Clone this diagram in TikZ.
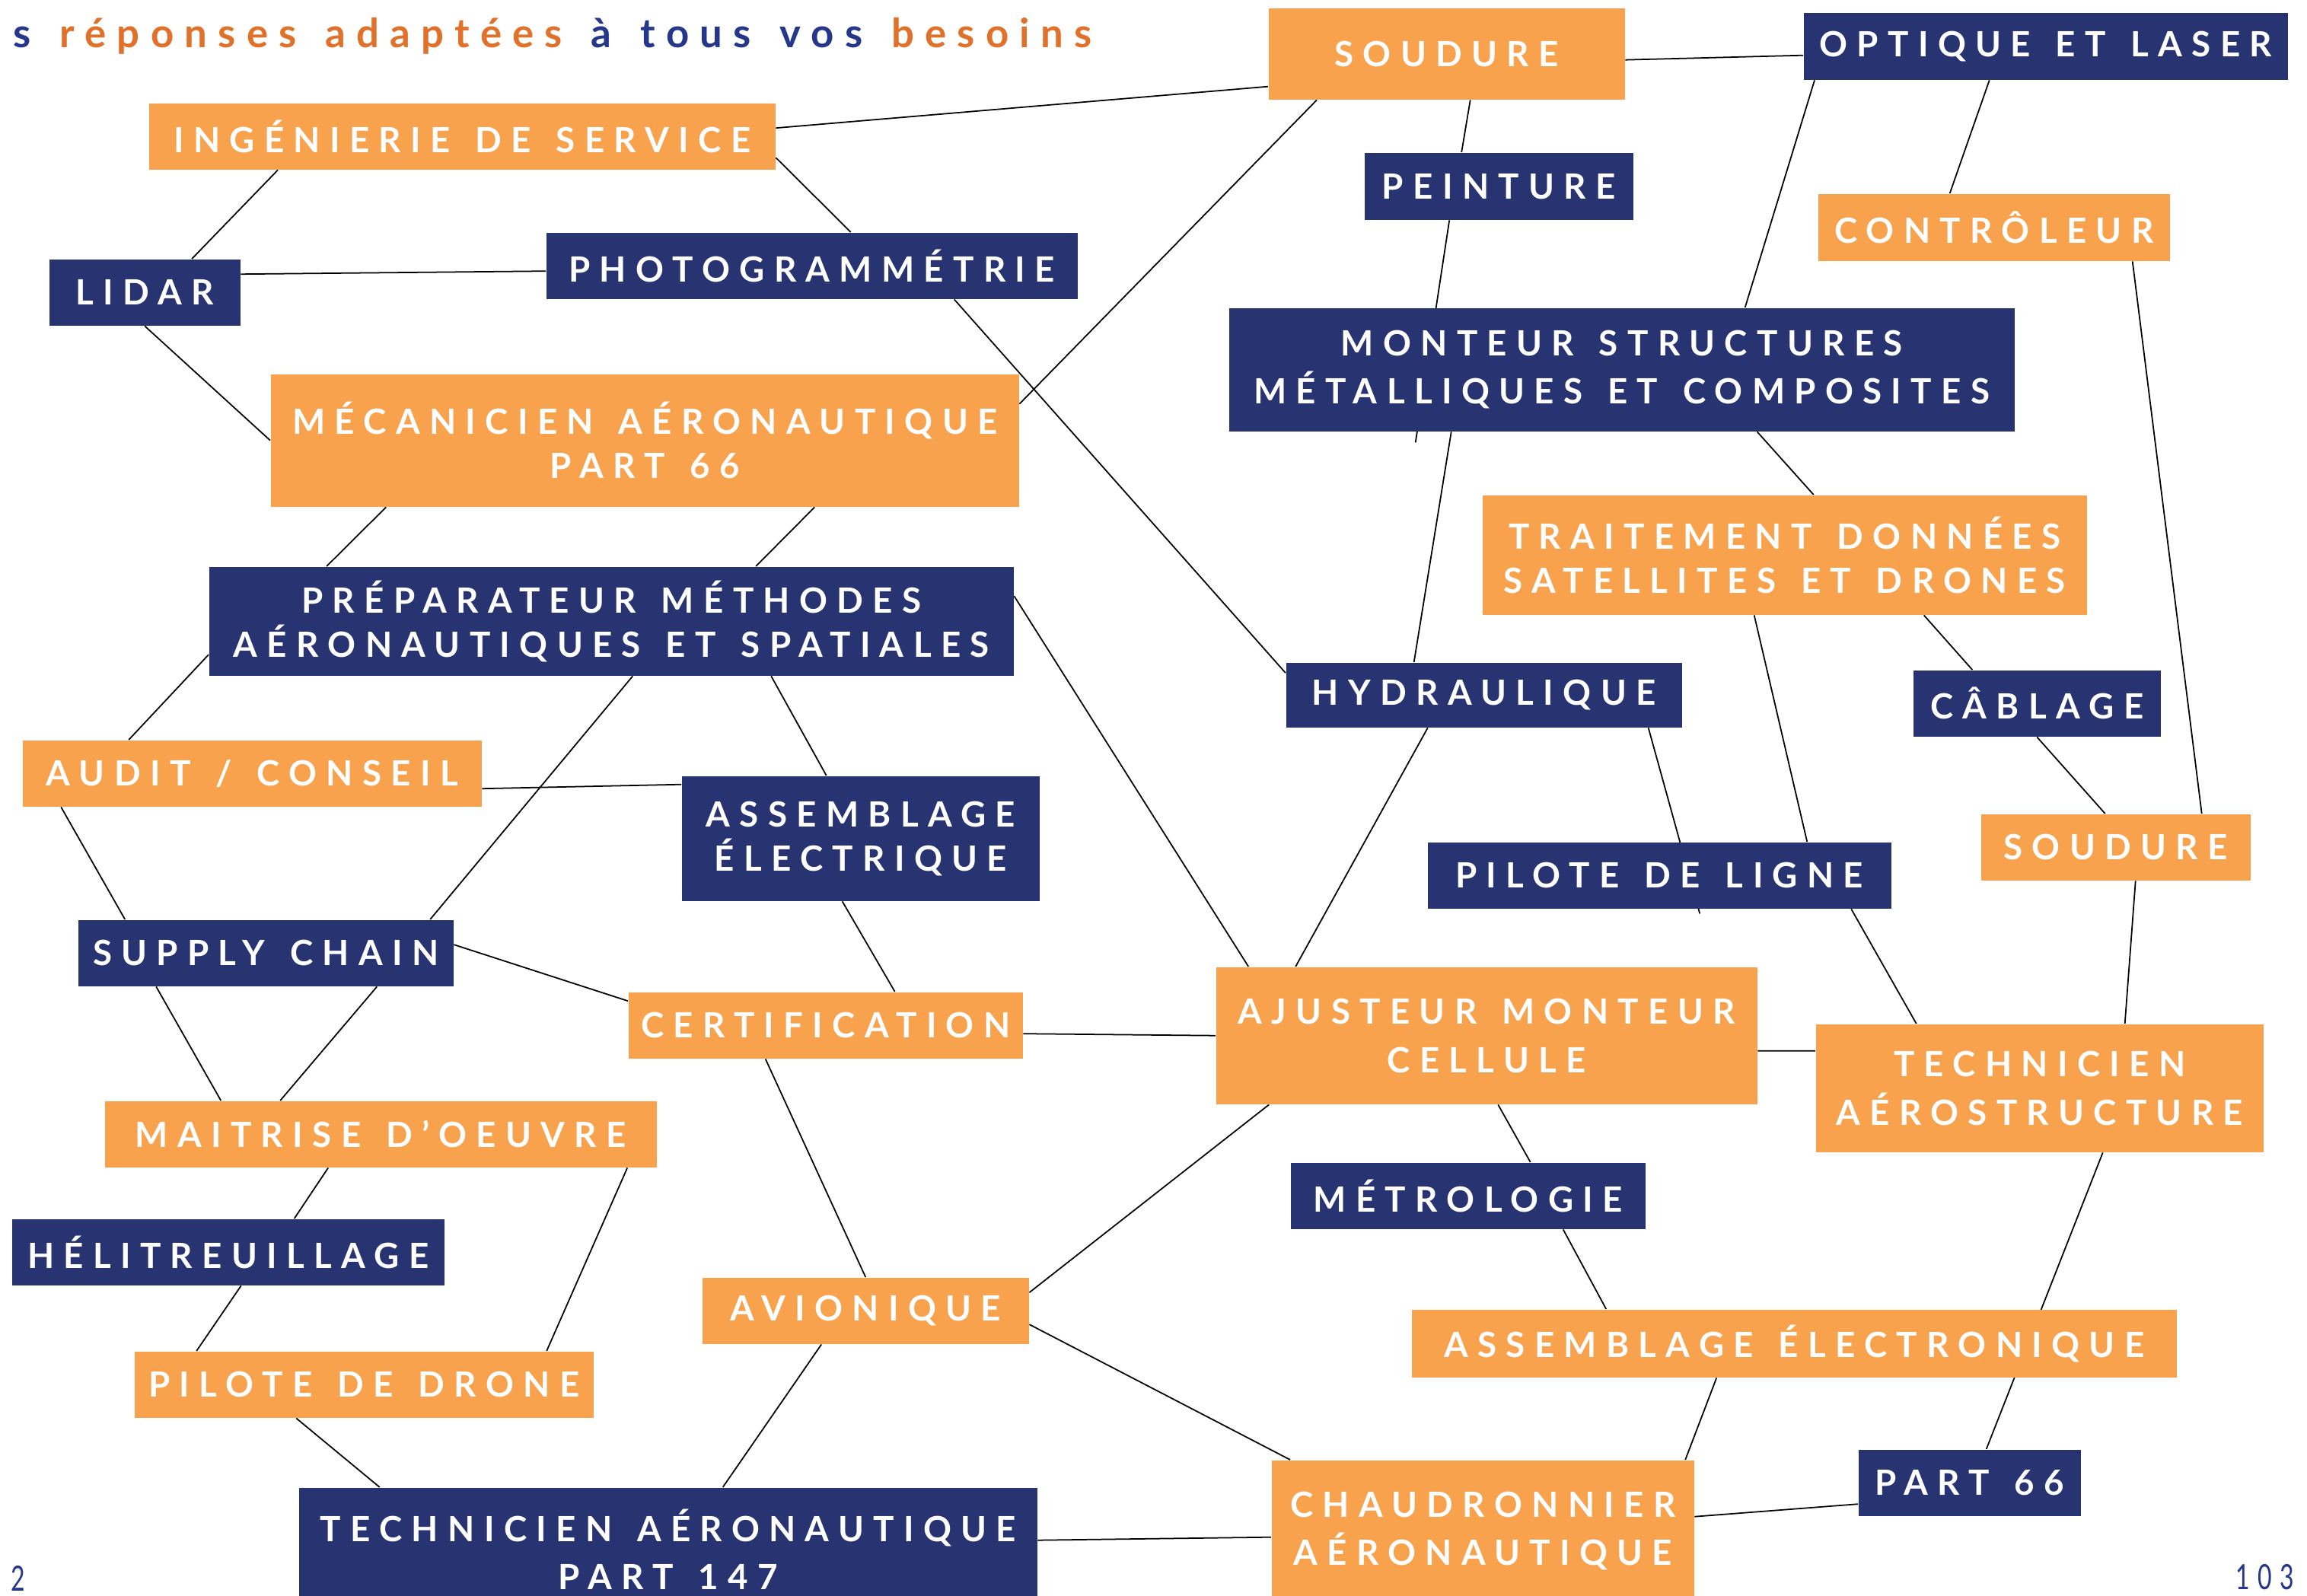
\documentclass[tikz,border=0pt]{standalone}
\usepackage{fontspec}
\setmainfont{Lato}
\newfontfamily\boxfont[LetterSpace=27, WordSpace=1.5]{Lato}
\newfontfamily\slogfont[LetterSpace=27, WordSpace=1.4]{Lato}
\usetikzlibrary{backgrounds}

\definecolor{jobsorange}{HTML}{F8A24E}
\definecolor{jobsnavy}{HTML}{283372}
\definecolor{slogorange}{HTML}{E0702A}
\definecolor{slognavy}{HTML}{24378A}

\begin{document}
\begin{tikzpicture}[
    obox/.style={rectangle, fill=jobsorange, anchor=north west, inner sep=0pt,
                 align=center, text=white,
                 font=\boxfont\bfseries\fontsize{13}{16.5}\selectfont},
    nbox/.style={obox, fill=jobsnavy},
    boxsize/.style 2 args={minimum width=#1cm, minimum height=#2cm},
    link/.style={draw=black, line width=0.5pt}
]
\clip (0,0) rectangle (30.31,-20.97);

%% SLOGAN ET PAGES
\node[anchor=base west, font=\slogfont\bfseries\fontsize{15}{17}\selectfont] (slogan) at (0.05,-0.63)
    {\textcolor{slognavy}{s} \textcolor{slogorange}{réponses adaptées} \textcolor{slognavy}{à tous vos} \textcolor{slogorange}{besoins}};
\node[anchor=base west, text=slognavy, font=\fontsize{13}{15}\selectfont] (pageleft) at (0.02,-20.90) {\scalebox{0.7}[1]{2}};
\node[anchor=base west, text=slognavy, font=\fontsize{13}{15}\selectfont] (pageright) at (29.25,-20.88) {\scalebox{0.7}[1]{1\,\,0\,\,3}};

%% METIERS - HAUT
\node[obox, boxsize={4.68}{1.20}] (soudure) at (16.66,-0.10) {SOUDURE};
\node[nbox, boxsize={6.36}{0.88}] (optique) at (23.69,-0.16) {OPTIQUE ET LASER};
\node[obox, boxsize={8.23}{0.87}] (ingenierie) at (1.95,-1.35) {INGÉNIERIE DE SERVICE};
\node[nbox, boxsize={3.53}{0.88}] (peinture) at (17.92,-2.00) {PEINTURE};
\node[obox, boxsize={4.62}{0.88}] (controleur) at (23.88,-2.54) {CONTRÔLEUR};
\node[nbox, boxsize={6.98}{0.87}] (photo) at (7.17,-3.05) {PHOTOGRAMMÉTRIE};
\node[nbox, boxsize={2.51}{0.87}] (lidar) at (0.64,-3.40) {LIDAR};
\node[nbox, boxsize={10.32}{1.62}] (monteur) at (16.14,-4.04) {MONTEUR STRUCTURES\\[1.6pt]MÉTALLIQUES ET COMPOSITES};
\node[obox, boxsize={9.83}{1.74}] (mecanicien) at (3.55,-4.91) {MÉCANICIEN AÉRONAUTIQUE\\PART 66};
\node[obox, boxsize={7.94}{1.57}] (traitement) at (19.47,-6.50) {TRAITEMENT DONNÉES\\SATELLITES ET DRONES};

%% METIERS - MILIEU
\node[nbox, boxsize={10.57}{1.43}] (preparateur) at (2.74,-7.44) {PRÉPARATEUR MÉTHODES\\AÉRONAUTIQUES ET SPATIALES};
\node[nbox, boxsize={5.20}{0.85}] (hydraulique) at (16.89,-8.70) {HYDRAULIQUE};
\node[nbox, boxsize={3.25}{0.87}] (cablage) at (25.13,-8.80) {CÂBLAGE};
\node[obox, boxsize={6.03}{0.87}] (audit) at (0.29,-9.72) {AUDIT / CONSEIL};
\node[nbox, boxsize={4.70}{1.64}] (asselec) at (8.95,-10.19) {ASSEMBLAGE\\ÉLECTRIQUE};
\node[obox, boxsize={3.54}{0.87}] (soudureb) at (26.02,-10.69) {SOUDURE};
\node[nbox, boxsize={6.09}{0.87}] (piloteligne) at (18.75,-11.06) {PILOTE DE LIGNE};
\node[nbox, boxsize={4.93}{0.87}] (supply) at (1.02,-12.08) {SUPPLY CHAIN};
\node[obox, boxsize={5.18}{0.87}] (certif) at (8.25,-13.03) {CERTIFICATION};
\node[obox, boxsize={7.11}{1.80}] (ajusteur) at (15.97,-12.70) {AJUSTEUR MONTEUR\\[1.6pt]CELLULE};
\node[obox, boxsize={5.88}{1.68}] (techaero) at (23.85,-13.45) {TECHNICIEN\\[1.6pt]AÉROSTRUCTURE};

%% METIERS - BAS
\node[obox, boxsize={7.25}{0.87}] (maitrise) at (1.37,-14.46) {MAITRISE D’OEUVRE};
\node[nbox, boxsize={4.66}{0.87}] (metrologie) at (16.95,-15.27) {MÉTROLOGIE};
\node[nbox, boxsize={5.68}{0.87}] (helitreuil) at (0.15,-16.01) {HÉLITREUILLAGE};
\node[obox, boxsize={4.29}{0.87}] (avionique) at (9.22,-16.78) {AVIONIQUE};
\node[obox, boxsize={10.05}{0.89}] (asselectro) at (18.54,-17.20) {ASSEMBLAGE ÉLECTRONIQUE};
\node[obox, boxsize={6.03}{0.87}] (drone) at (1.76,-17.75) {PILOTE DE DRONE};
\node[nbox, boxsize={2.92}{0.87}] (parttwo) at (24.41,-19.04) {PART 66};
\node[obox, boxsize={5.55}{1.86}] (chaudron) at (16.70,-19.18) {CHAUDRONNIER\\[1.6pt]AÉRONAUTIQUE};
\node[nbox, boxsize={9.70}{1.62}] (tech147) at (3.92,-19.54) {TECHNICIEN AÉRONAUTIQUE\\[1.6pt]PART 147};

%% LIENS
\begin{scope}[on background layer]
\draw[link] ([yshift=0.11cm]ingenierie.east) -- ([yshift=-0.43cm]soudure.west);
\draw[link] ([yshift=-0.08cm]soudure.east) -- ([yshift=-0.12cm]optique.west);
\draw[link] ([xshift=0.64cm]soudure.south west) -- ([yshift=0.48cm]mecanicien.east);
\draw[link] ([xshift=0.31cm]soudure.south) -- ([xshift=-0.49cm]peinture.north);
\draw[link] ([xshift=-0.65cm]peinture.south) -- ([xshift=-2.71cm,yshift=-0.14cm]monteur.south);
\draw[link] ([xshift=-2.24cm]monteur.south) -- ([xshift=-0.92cm]hydraulique.north);
\draw[link] ([xshift=0.15cm]optique.south west) -- ([xshift=1.62cm]monteur.north);
\draw[link] ([xshift=-0.74cm]optique.south) -- ([xshift=-0.58cm]controleur.north);
\draw[link] ([xshift=1.82cm]controleur.south) -- ([xshift=1.13cm]soudureb.north);
\draw[link] ([xshift=1.78cm]monteur.south) -- ([xshift=0.38cm]traitement.north);
\draw[link] ([xshift=1.83cm]traitement.south) -- ([xshift=-0.85cm]cablage.north);
\draw[link] ([xshift=-0.40cm]traitement.south) -- ([xshift=1.94cm]piloteligne.north);
\draw[link] ([xshift=2.52cm]piloteligne.south) -- ([xshift=-1.62cm]techaero.north);
\draw[link] ([xshift=0.83cm]techaero.south) -- ([xshift=0.22cm]parttwo.north);
\draw[link] (cablage.south) -- ([xshift=-0.14cm]soudureb.north);
\draw[link] ([xshift=0.26cm]soudureb.south) -- ([xshift=1.12cm]techaero.north);
\draw[link] ([xshift=1.70cm]ingenierie.south west) -- ([xshift=0.62cm]lidar.north);
\draw[link] ([yshift=-0.28cm]ingenierie.east) -- ([xshift=0.51cm]photo.north);
\draw[link] ([yshift=0.24cm]lidar.east) -- ([yshift=-0.07cm]photo.west);
\draw[link] (lidar.south) -- (mecanicien.west);
\draw[link] ([xshift=1.87cm]photo.south) -- ([yshift=0.29cm]hydraulique.west);
\draw[link] ([xshift=-3.40cm]mecanicien.south) -- ([xshift=-3.74cm]preparateur.north);
\draw[link] ([xshift=2.23cm]mecanicien.south) -- ([xshift=1.90cm]preparateur.north);
\draw[link] ([yshift=-0.44cm]preparateur.west) -- ([xshift=-1.62cm]audit.north);
\draw[link] ([yshift=0.33cm]preparateur.east) -- ([xshift=-3.13cm]ajusteur.north);
\draw[link] ([xshift=0.28cm]preparateur.south) -- ([xshift=2.16cm]supply.north);
\draw[link] ([xshift=2.10cm]preparateur.south) -- ([xshift=-0.45cm]asselec.north);
\draw[link] ([yshift=-0.20cm]audit.east) -- ([yshift=0.71cm]asselec.west);
\draw[link] ([xshift=-2.51cm]audit.south) -- ([xshift=-1.85cm]supply.north);
\draw[link] ([yshift=0.11cm]supply.east) -- ([yshift=0.32cm]certif.west);
\draw[link] ([xshift=-1.44cm]supply.south) -- ([xshift=-2.10cm]maitrise.north);
\draw[link] ([xshift=1.46cm]supply.south) -- ([xshift=-1.32cm]maitrise.north);
\draw[link] ([xshift=-0.24cm]asselec.south) -- ([xshift=0.91cm]certif.north);
\draw[link] ([yshift=-0.11cm]certif.east) -- (ajusteur.west);
\draw[link] ([xshift=-0.79cm]certif.south) -- (avionique.north);
\draw[link] ([xshift=-0.69cm]maitrise.south) -- ([xshift=0.87cm]helitreuil.north);
\draw[link] ([xshift=3.24cm]maitrise.south) -- ([xshift=2.40cm]drone.north);
\draw[link] ([xshift=0.17cm]helitreuil.south) -- ([xshift=-2.20cm]drone.north);
\draw[link] ([xshift=-0.89cm]drone.south) -- ([xshift=-3.79cm]tech147.north);
\draw[link] ([yshift=0.24cm]avionique.east) -- ([xshift=-2.86cm]ajusteur.south);
\draw[link] ([yshift=-0.18cm]avionique.east) -- ([xshift=0.25cm]chaudron.north west);
\draw[link] ([xshift=-0.58cm]avionique.south) -- ([xshift=0.72cm]tech147.north);
\draw[link] ([yshift=0.12cm]tech147.east) -- ([yshift=-0.08cm]chaudron.west);
\draw[link] ([yshift=-0.20cm]ajusteur.east) -- ([yshift=0.49cm]techaero.west);
\draw[link] ([xshift=-0.74cm]hydraulique.south) -- ([xshift=-2.51cm]ajusteur.north);
\draw[link] ([xshift=2.16cm]hydraulique.south) -- ([xshift=0.53cm,yshift=-0.06cm]piloteligne.south);
\draw[link] ([xshift=0.15cm]ajusteur.south) -- ([xshift=0.82cm]metrologie.north);
\draw[link] ([xshift=1.25cm]metrologie.south) -- ([xshift=-2.47cm]asselectro.north);
\draw[link] ([xshift=-1.02cm]asselectro.south) -- ([xshift=2.66cm]chaudron.north);
\draw[link] ([yshift=0.19cm]chaudron.east) -- ([yshift=-0.28cm]parttwo.west);
\end{scope}

\end{tikzpicture}
\end{document}
